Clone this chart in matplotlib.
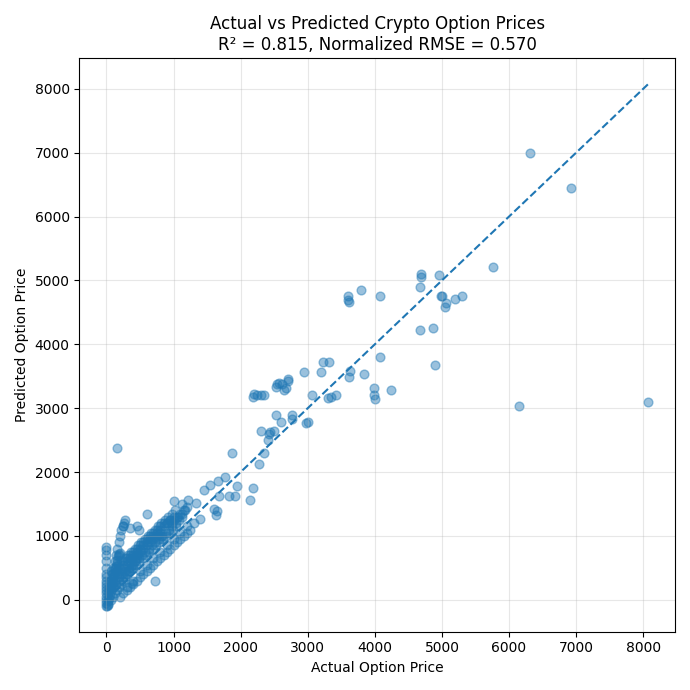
import matplotlib
matplotlib.use("Agg")
import matplotlib.pyplot as plt

actual_outliers = [150,8070,6150,6310,6920,5760,4690,4690,4960,4680,4980,5000,5060,5050,5200,5300,4870,4680,4900,4080,3790,3600,3600,3610,
    4070,4240,3990,3980,4000,3630,3620,3840,3230,3310,3200,2950,3340,3300,3420,3060,3000,2980,2760,2770,2540,2570,2530,2610,2670,2700,2700,
    2180,2200,2250,2300,2350,2420,2440,2490,2400,2520,2600,2640,2300,2280,2350,2180,2140,1950,1920,1870,1830,1760,1660,1680,1610,1540,1450,
    1640,1630,1390,1340]
pred_outliers = [2380,3100,3040,7000,6440,5210,5100,5050,5080,4890,4760,4750,4640,4580,4710,4750,4250,4220,3680,4750,4850,4750,4700,4660,
    3800,3290,3320,3200,3150,3580,3490,3530,3730,3730,3560,3560,3170,3160,3200,3200,2780,2770,2900,2830,3380,3400,3330,3380,3320,3450,3420,
    3180,3220,3200,3210,3200,2600,2620,2650,2500,2900,2790,3290,2650,2120,2300,1750,1560,1780,1620,2300,1620,1920,1860,1620,1420,1800,1720,
    1390,1320,1270,1520]

actual_cluster = [0,0,0,0,0,0,0,0,0,0,0,0,0,0,0,0,
    20,30,40,50,60,70,80,90,100,110,120,130,140,150,160,170,180,190,200,
    30,60,90,120,150,180,210,240,270,300,330,360,390,420,450,
    200,250,300,350,400,450,500,550,600,650,700,750,800,850,900,950,1000,1050,1100,1150,1200,1250,1300,
    250,300,350,400,450,500,550,600,650,700,750,800,850,900,950,1000,1050,1100,1150,1200,
    100,150,200,250,300,350,400,450,500,550,600,650,700,750,800,850,900,950,1000,
    50,100,150,200,250,300,350,400,450,500,550,600,650,700,750,800,
    300,400,500,600,700,800,900,1000,1100,1200,
    10,20,30,40,60,80,100,120,140,160,180,200,220,240,260,280,
    720,350,450,380,250,820,980,1120,1010,1210,600,480,
    80,130,180,230,280,330,380,430,480,530,580,630,680,730,780,830,880,930,980,1030,1080,1130,
    70,120,170,220,270,320,370,420,470,520,570,620,670,720,770,820,870,920,970,1020,1070,1120,1170,
    40,90,140,190,240,290,340,390,440,490,540,590,640,690,740,790,840,890,940,990,1040]
pred_cluster = [-100,-50,0,50,100,150,200,250,300,350,400,500,600,700,780,820,
    -80,-20,30,80,130,180,230,280,330,380,430,480,530,580,630,680,700,720,740,
    -60,0,50,100,150,200,250,300,350,400,450,500,550,600,650,
    50,100,150,200,250,300,350,400,450,500,550,600,650,700,750,800,850,900,950,1000,1050,1100,1200,
    600,650,700,750,800,850,900,950,1000,1050,1100,1150,1200,1200,1250,1250,1300,1350,1400,1450,
    400,450,500,550,600,650,700,750,800,850,900,950,1000,1050,1100,1150,1200,1250,1300,
    300,350,400,450,500,550,600,650,700,750,800,850,900,950,1000,1050,
    200,300,450,550,650,750,850,950,1050,1150,
    -100,0,100,200,300,400,500,600,700,800,900,1000,1100,1150,1200,1250,
    300,1120,1150,260,1160,1000,1200,1500,1550,1570,1340,1100,
    250,300,350,400,450,500,550,600,650,700,750,800,850,900,950,1000,1050,1100,1150,1200,1250,1300,
    450,500,550,600,650,700,750,800,850,900,950,1000,1050,1100,1150,1200,1250,1300,1350,1400,1300,1350,1400,
    150,200,250,300,350,400,450,500,550,600,650,700,750,800,850,900,950,1000,1050,1100,1150]

actual = actual_outliers + actual_cluster
pred = pred_outliers + pred_cluster

fig, ax = plt.subplots(figsize=(6.9, 6.9), dpi=100)
ax.scatter(actual, pred, alpha=0.45, s=40, color='#1f77b4')
mx = max(actual)
ax.plot([min(actual), mx], [min(actual), mx], '--', color='#1f77b4')
ax.set_ylim(-500, 8480)
ax.set_xlabel('Actual Option Price')
ax.set_ylabel('Predicted Option Price')
ax.set_title('Actual vs Predicted Crypto Option Prices\nR² = 0.815, Normalized RMSE = 0.570')
ax.grid(True, alpha=0.3)
fig.tight_layout()
fig.savefig('out.png')
